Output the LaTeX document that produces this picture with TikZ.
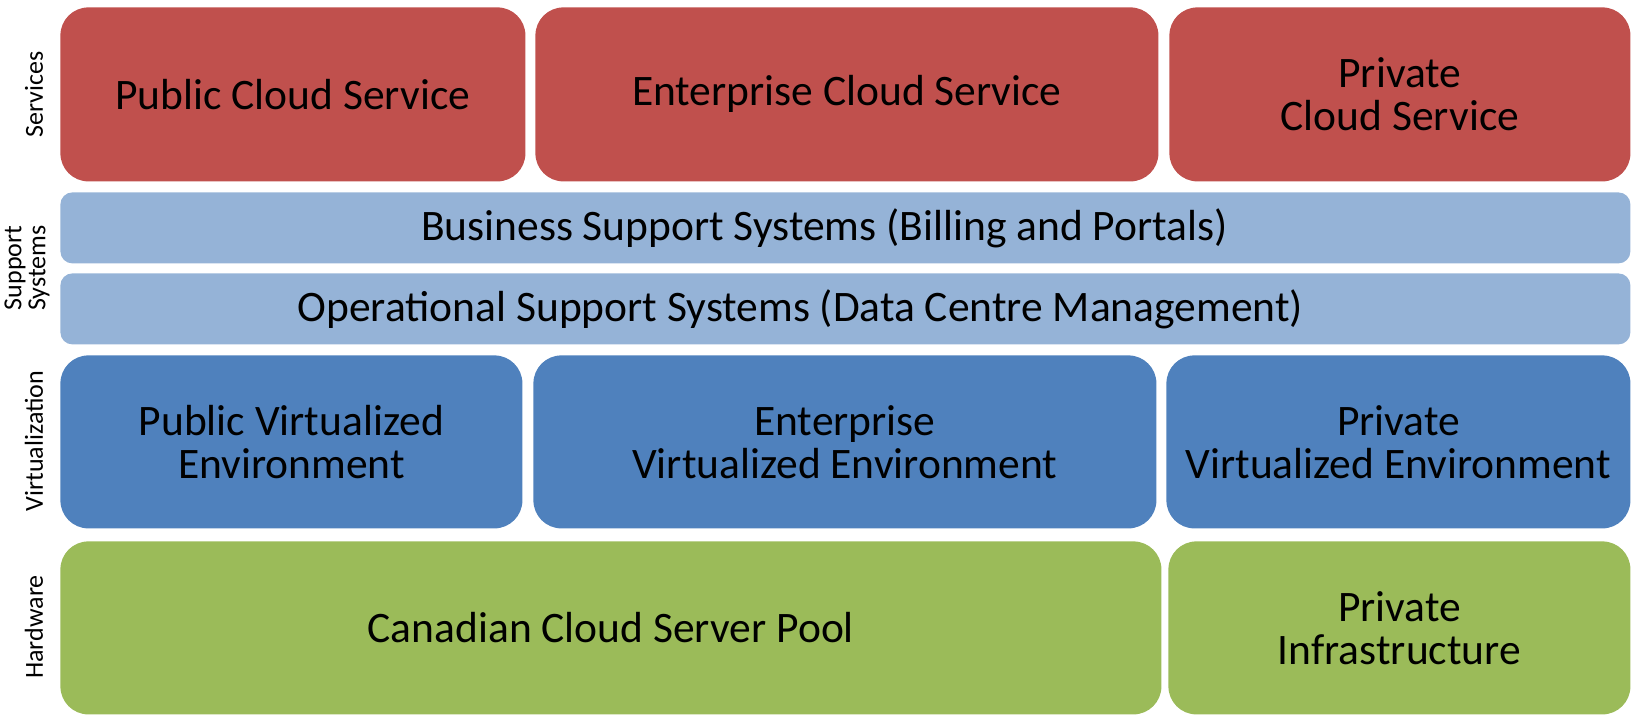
\documentclass[tikz,border=0pt]{standalone}
\usepackage{fontspec}
\setmainfont{Carlito}
\definecolor{svcred}{HTML}{C0504D}
\definecolor{supblue}{HTML}{95B3D7}
\definecolor{virtblue}{HTML}{4F81BD}
\definecolor{hwgreen}{HTML}{9BBB59}
\begin{document}
\begin{tikzpicture}[x=0.5pt,y=-0.5pt,inner sep=0pt,
  blk/.style={anchor=north west,rounded corners=14pt,align=center,minimum height=87pt,
    font=\fontsize{21.75}{21.5}\selectfont},
  svc/.style={blk,fill=svcred},
  virt/.style={blk,fill=virtblue},
  hw/.style={blk,fill=hwgreen},
  bar/.style={blk,fill=supblue,rounded corners=6pt,minimum height=35.5pt,minimum width=785pt},
  lbl/.style={rotate=90,align=center,font=\fontsize{13}{12}\selectfont}]
\useasboundingbox (0,0) rectangle (1634,716);
\node [svc,minimum width=232.5pt] (PubSvc)  at (60,7)   {Public Cloud Service};
\node [svc,minimum width=311.5pt] (EntSvc)  at (535,7)  {Enterprise Cloud Service};
\node [svc,minimum width=230.5pt] (PriSvc)  at (1169,7) {Private\\Cloud Service};
\node [bar] (BSS) at (60,192) {Business Support Systems (Billing and Portals)\hspace*{21pt}};
\node [bar] (OSS) at (60,273) {Operational Support Systems (Data Centre Management)\hspace*{45pt}};
\node [virt,minimum width=231pt,minimum height=86.5pt]   (PubVirt) at (60,355)   {Public Virtualized\\Environment};
\node [virt,minimum width=311.5pt,minimum height=86.5pt] (EntVirt) at (533,355)  {Enterprise\\Virtualized Environment};
\node [virt,minimum width=232pt,minimum height=86.5pt]   (PriVirt) at (1166,355) {Private\\Virtualized Environment};
\node [hw,minimum width=550.5pt,minimum height=86.5pt] (Pool)  at (60,541)   {Canadian Cloud Server Pool};
\node [hw,minimum width=231pt,minimum height=86.5pt]   (Infra) at (1168,541) {Private\\Infrastructure};
\node [lbl] (LSvc)  at (34,94.5) {Services};
\node [lbl] (LSup)  at (27,268)  {Support\\Systems};
\node [lbl] (LVirt) at (34,441)  {Virtualization};
\node [lbl] (LHw)   at (34,627)  {Hardware};
\end{tikzpicture}
\end{document}
